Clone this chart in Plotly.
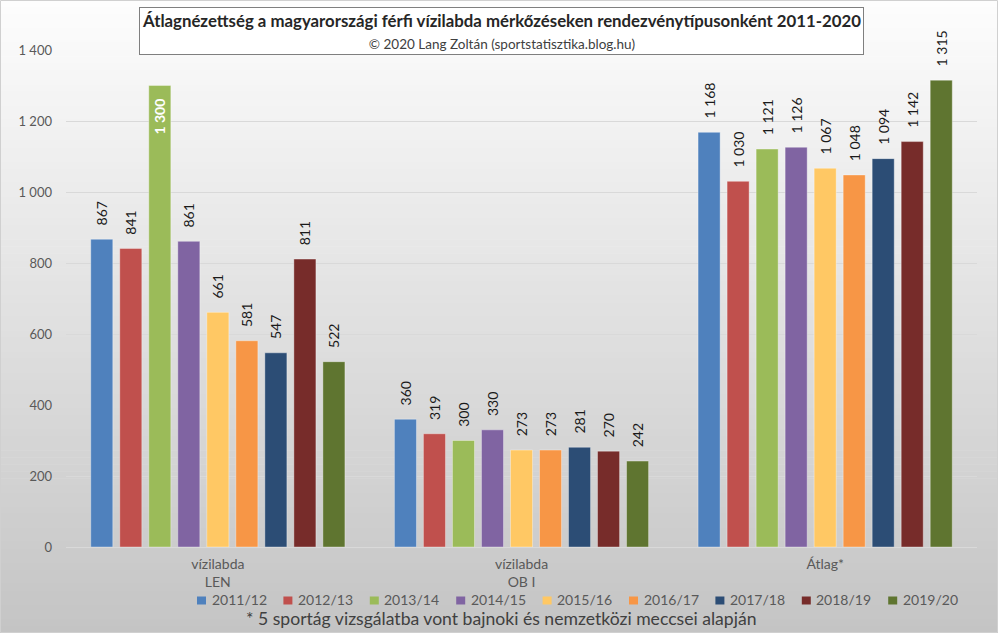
import plotly.graph_objects as go

categories = ["vízilabda<br>LEN", "vízilabda<br>OB I", "Átlag*"]
seasons = ["2011/12", "2012/13", "2013/14", "2014/15", "2015/16",
           "2016/17", "2017/18", "2018/19", "2019/20"]
len_values = [867, 841, 1300, 861, 661, 581, 547, 811, 522]
obi_values = [360, 319, 300, 330, 273, 273, 281, 270, 242]
avg_values = [1168, 1030, 1121, 1126, 1067, 1048, 1094, 1142, 1315]
colors = ["#4F81BD", "#C0504D", "#9BBB59", "#8064A2", "#FFC864",
          "#F79646", "#2C4D75", "#772C2A", "#5F7530"]
ytick_vals = [0, 200, 400, 600, 800, 1000, 1200, 1400]
ytick_text = ["0", "200", "400", "600", "800", "1 000", "1 200", "1 400"]

W, H = 998, 633
L, R, T, B = 66, 21, 50, 86
pw, ph = W - L - R, H - T - B
PAD = "\u00a0\u00a0\u00a0"


def fmt(v):
    return f"{v:,}".replace(",", " ")


FONT = "Lato, 'Open Sans', sans-serif"

fig = go.Figure()
for i, s in enumerate(seasons):
    vals = [len_values[i], obi_values[i], avg_values[i]]
    inside = [k == 0 and v >= 1300 for k, v in enumerate(vals)]
    fig.add_trace(go.Bar(
        name=s, x=categories, y=vals,
        text=[fmt(v) + PAD if ins else PAD + fmt(v) for v, ins in zip(vals, inside)],
        textposition=["inside" if ins else "outside" for ins in inside],
        textangle=-90,
        insidetextanchor="end",
        constraintext="none",
        cliponaxis=False,
        outsidetextfont=dict(family=FONT, size=14, color="#1a1a1a"),
        insidetextfont=dict(family=FONT, size=14, color="white", weight="bold"),
        marker=dict(color=colors[i], line=dict(color="rgba(255,255,255,0.35)", width=1)),
        hoverinfo="skip",
        showlegend=False,
    ))


def px2x(px):
    return (px - L) / pw


def px2y(py):
    return (H - B - py) / ph


# background gradient
shapes = []
N = 90
for k in range(N):
    y0 = k * H / N
    y1 = (k + 1) * H / N + 0.6
    t = (k + 0.5) / N
    c = int(round(253 - (253 - 196) * t))
    shapes.append(dict(type="rect", xref="paper", yref="paper", layer="below",
                       x0=px2x(0), x1=px2x(W), y0=px2y(y1), y1=px2y(y0),
                       fillcolor=f"rgb({c},{c},{c})", line=dict(width=0)))
shapes.append(dict(type="rect", xref="paper", yref="paper", layer="above",
                   x0=px2x(0.5), x1=px2x(W - 0.5), y0=px2y(H - 0.5), y1=px2y(0.5),
                   line=dict(color="#D0D0D0", width=1), fillcolor="rgba(0,0,0,0)"))

annotations = [
    dict(xref="paper", yref="paper", x=px2x(501), y=px2y(31.5),
         xanchor="center", yanchor="middle", showarrow=False,
         text="<b>Átlagnézettség a magyarországi férfi vízilabda mérkőzéseken rendezvénytípusonként 2011-2020</b><br>"
              "<span style='font-size:13.5px;color:#404040'>© 2020 Lang Zoltán (sportstatisztika.blog.hu)</span>",
         font=dict(family=FONT, size=16.8, color="#262626"),
         bgcolor="white", bordercolor="#7F7F7F", borderwidth=1, borderpad=2,
         align="center"),
    dict(xref="paper", yref="paper", x=px2x(501), y=px2y(618),
         xanchor="center", yanchor="middle", showarrow=False,
         text="* 5 sportág vizsgálatba vont bajnoki és nemzetközi meccsei alapján",
         font=dict(family=FONT, size=17.6, color="#404040")),
]

# legend (keys + labels)
LEG_X0, LEG_STEP, LEG_Y = 197, 86.4, 600
for i, s in enumerate(seasons):
    xs = LEG_X0 + i * LEG_STEP
    shapes.append(dict(type="rect", xref="paper", yref="paper", layer="above",
                       x0=px2x(xs), x1=px2x(xs + 9), y0=px2y(LEG_Y + 4.5), y1=px2y(LEG_Y - 3.5),
                       fillcolor=colors[i], line=dict(width=0)))
    annotations.append(dict(xref="paper", yref="paper", x=px2x(xs + 12.5), y=px2y(LEG_Y - 0.5),
                            xanchor="left", yanchor="middle", showarrow=False,
                            text=s, font=dict(family=FONT, size=14, color="#595959")))

fig.update_layout(
    width=W, height=H,
    margin=dict(l=L, r=R, t=T, b=B, autoexpand=False),
    paper_bgcolor="white",
    plot_bgcolor="rgba(0,0,0,0)",
    barmode="group",
    bargap=0.14,
    bargroupgap=0.24,
    font=dict(family=FONT, size=12, color="#595959"),
    shapes=shapes,
    annotations=annotations,
    showlegend=False,
    xaxis=dict(showgrid=False, showline=True, linecolor="#D9D9D9", linewidth=1,
               ticks="", ticklabelstandoff=4,
               tickfont=dict(family=FONT, size=14, color="#595959"),
               fixedrange=True),
    yaxis=dict(range=[0, 1400], tickvals=ytick_vals, ticktext=ytick_text,
               showgrid=True, gridcolor="#D9D9D9", gridwidth=1,
               zeroline=False, showline=False, ticks="",
               ticklabelstandoff=13,
               tickfont=dict(family=FONT, size=13, color="#595959"),
               fixedrange=True),
)

fig.write_html("out.html", config={"displayModeBar": False},
               post_script="document.body.style.margin='0px';")
